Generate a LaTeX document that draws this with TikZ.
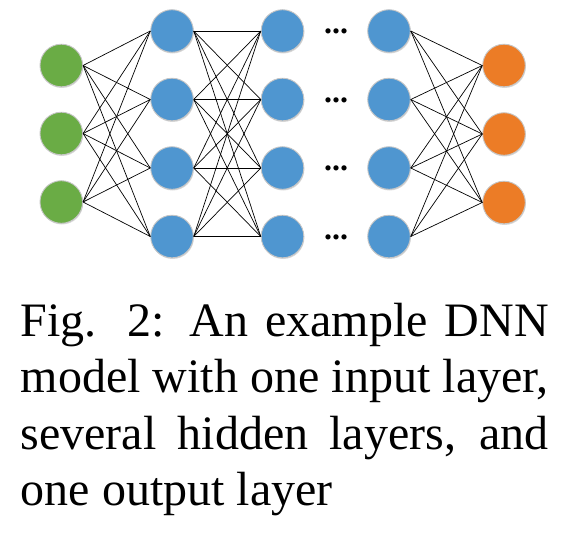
\documentclass[tikz,border=0pt]{standalone}
\usepackage{fontspec}
\setmainfont{Liberation Serif}
\usetikzlibrary{shadows}
\definecolor{ingreen}{RGB}{106,172,69}
\definecolor{hidblue}{RGB}{79,150,208}
\definecolor{outorange}{RGB}{236,124,38}
\begin{document}
\begin{tikzpicture}[x=1pt,y=-1pt,
  neuron/.style={circle,minimum size=42.6pt,inner sep=0pt,draw=gray!45,line width=0.9pt,
    drop shadow={shadow xshift=0.6pt,shadow yshift=-1.2pt,opacity=0.3}},
  innode/.style={neuron,fill=ingreen},
  hidnode/.style={neuron,fill=hidblue},
  outnode/.style={neuron,fill=outorange},
  link/.style={black,line width=0.7pt},
  dotsnode/.style={font=\fontsize{32}{32}\selectfont\bfseries,inner sep=0pt,anchor=base},
  capline/.style={anchor=base west,inner sep=0pt,font=\fontsize{48}{56}\selectfont}]
\useasboundingbox (0,0) rectangle (582,536);
\foreach \i/\y in {1/65.5,2/133.5,3/202}{\node[innode] (i\i) at (61.3,\y) {};}
\foreach \i/\y in {1/31,2/99.5,3/168,4/236.5}{
  \node[hidnode] (a\i) at (172,\y) {};
  \node[hidnode] (b\i) at (282.5,\y) {};
  \node[hidnode] (c\i) at (389,\y) {};
  \node[dotsnode] (d\i) at (336,\y+2.5) {...};}
\foreach \i/\y in {1/65.5,2/134,3/202.5}{\node[outnode] (o\i) at (504,\y) {};}
\foreach \i in {1,2,3}{\foreach \j in {1,...,4}{
  \draw[link] (i\i.east) -- (a\j.west);
  \draw[link] (c\j.east) -- (o\i.west);}}
\foreach \i in {1,...,4}{\foreach \j in {1,...,4}{\draw[link] (a\i.east) -- (b\j.west);}}
\node[capline] (cap1) at (20.5,336.7) {\makebox[528pt][s]{Fig. 2: An example DNN}};
\node[capline] (cap2) at (20.5,392.7) {\makebox[528pt][s]{model with one input layer,}};
\node[capline] (cap3) at (20.5,449) {\makebox[528pt][s]{several hidden layers, and}};
\node[capline] (cap4) at (20.5,505) {one output layer};
\end{tikzpicture}
\end{document}
